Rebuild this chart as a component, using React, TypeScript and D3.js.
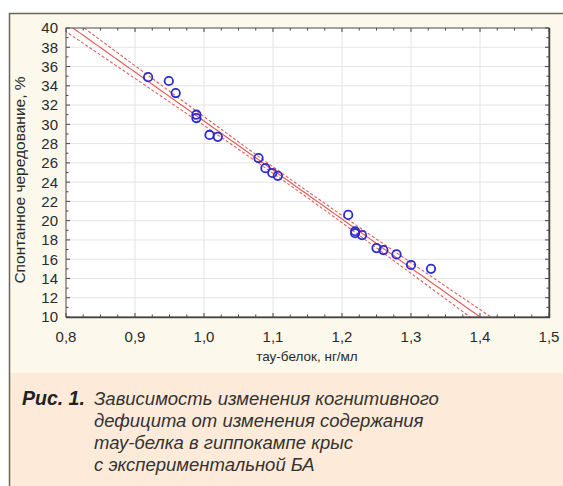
import React from 'react';
import * as d3 from 'd3';

// тау-белок, нг/мл  vs  спонтанное чередование, %
const tau = [0.919, 0.949, 0.959, 0.989, 0.989, 1.008, 1.02, 1.079, 1.089, 1.099, 1.107,
  1.209, 1.219, 1.219, 1.229, 1.25, 1.26, 1.279, 1.3, 1.329];
const alternation = [34.9, 34.5, 33.25, 31.0, 30.65, 28.9, 28.7, 26.5, 25.45, 24.95, 24.65,
  20.6, 18.9, 18.7, 18.5, 17.15, 16.95, 16.5, 15.4, 15.0];

// fitted line as it reads off the picture: y = intercept + slope * x
const fitIntercept = 81.19;
const fitSlope = -50.85;

const xTicks = [0.8, 0.9, 1.0, 1.1, 1.2, 1.3, 1.4, 1.5];
const yTicks = [10, 12, 14, 16, 18, 20, 22, 24, 26, 28, 30, 32, 34, 36, 38, 40];

const captionLines = [
  'Зависимость изменения когнитивного',
  'дефицита от изменения содержания',
  'тау-белка в гиппокампе крыс',
  'с экспериментальной БА',
];

const W = 563, H = 486;
const plot = { left: 66, top: 28, right: 549, bottom: 317 };

export default function App() {
  const x = d3.scaleLinear().domain([0.8, 1.5]).range([plot.left, plot.right]);
  const y = d3.scaleLinear().domain([10, 40]).range([plot.bottom, plot.top]);

  // 95% band of the mean around the line
  const n = tau.length;
  const mx = d3.mean(tau)!;
  const sxx = d3.sum(tau, v => (v - mx) ** 2);
  const fit = (v: number) => fitIntercept + fitSlope * v;
  const s = Math.sqrt(d3.sum(tau, (v, i) => (alternation[i] - fit(v)) ** 2) / (n - 2));
  const t = 2.101;
  const half = (v: number) => t * s * Math.sqrt(1 / n + (v - mx) ** 2 / sxx);
  const grid = d3.range(0.78, 1.5001, 0.005);

  const line = d3.line<[number, number]>().x(d => x(d[0])).y(d => y(d[1]));
  const mk = (f: (v: number) => number) =>
    line(grid.map(v => [v, f(v)] as [number, number])) ?? '';

  const xMinor = d3.range(0, 29).map(i => 0.8 + i * 0.025);
  const yMinor = d3.range(10, 41, 1);
  const axisColor = '#444';
  const font = '"Liberation Sans", Arial, sans-serif';
  const capFont = '"Liberation Sans", Arial, sans-serif';

  return (
    <svg width={W} height={H} style={{ display: 'block', position: 'absolute', left: 0, top: 0 }}>
      <defs>
        <clipPath id="pc">
          <rect x={plot.left} y={plot.top} width={plot.right - plot.left} height={plot.bottom - plot.top} />
        </clipPath>
      </defs>
      <rect x={0} y={0} width={W} height={H} fill="#fff" />
      <rect x={9} y={13} width={W - 9} height={360} fill="#fdf8ec" />
      <rect x={9} y={373} width={W - 9} height={H - 373} fill="#fdead8" />
      <line x1={9.5} x2={9.5} y1={13} y2={H} stroke="#6e6655" strokeWidth={1.5} />
      <line x1={9} x2={W} y1={13.5} y2={13.5} stroke="#6e6655" strokeWidth={1.5} />

      <rect x={plot.left} y={plot.top} width={plot.right - plot.left} height={plot.bottom - plot.top} fill="#fff" />
      {xTicks.map(v => (
        <line key={'gx' + v} x1={x(v)} x2={x(v)} y1={plot.top} y2={plot.bottom} stroke="#e4e4e4" strokeWidth={1} />
      ))}
      {yTicks.map(v => (
        <line key={'gy' + v} x1={plot.left} x2={plot.right} y1={y(v)} y2={y(v)} stroke="#e4e4e4" strokeWidth={1} />
      ))}
      {xMinor.map((v, i) => (
        <g key={'mx' + i}>
          <line x1={x(v)} x2={x(v)} y1={plot.bottom} y2={plot.bottom - (i % 4 === 0 ? 4 : 2.5)} stroke={axisColor} />
          <line x1={x(v)} x2={x(v)} y1={plot.top} y2={plot.top + (i % 4 === 0 ? 4 : 2.5)} stroke={axisColor} />
        </g>
      ))}
      {yMinor.map((v, i) => (
        <g key={'my' + i}>
          <line x1={plot.left} x2={plot.left + (i % 2 === 0 ? 4 : 2.5)} y1={y(v)} y2={y(v)} stroke={axisColor} />
          <line x1={plot.right} x2={plot.right - (i % 2 === 0 ? 4 : 2.5)} y1={y(v)} y2={y(v)} stroke={axisColor} />
        </g>
      ))}

      <g clipPath="url(#pc)" fill="none">
        <path d={mk(fit)} stroke="#e0605a" strokeWidth={1.2} />
        <path d={mk(v => fit(v) + half(v))} stroke="#e0605a" strokeWidth={1.1} strokeDasharray="3,2" />
        <path d={mk(v => fit(v) - half(v))} stroke="#e0605a" strokeWidth={1.1} strokeDasharray="3,2" />
      </g>

      {tau.map((v, i) => (
        <circle key={'p' + i} cx={x(v)} cy={y(alternation[i])} r={4.2} fill="none" stroke="#2b2bd0" strokeWidth={1.8} />
      ))}

      <rect x={plot.left} y={plot.top} width={plot.right - plot.left} height={plot.bottom - plot.top}
        fill="none" stroke="#555" strokeWidth={1} />
      <line x1={plot.right + 0.5} x2={plot.right + 0.5} y1={plot.top} y2={plot.bottom + 1} stroke="#444" strokeWidth={1.5} />
      <line x1={plot.left} x2={plot.right + 1} y1={plot.bottom + 0.5} y2={plot.bottom + 0.5} stroke="#444" strokeWidth={1.5} />

      {yTicks.map(v => (
        <text key={'ty' + v} x={plot.left - 8} y={y(v)} dy="0.36em" textAnchor="end"
          fontFamily={font} fontSize={15} fill="#2a2a2a">{v}</text>
      ))}
      {xTicks.map(v => (
        <text key={'tx' + v} x={x(v)} y={plot.bottom + 25} textAnchor="middle"
          fontFamily={font} fontSize={15} fill="#2a2a2a">{d3.format('.1f')(v).replace('.', ',')}</text>
      ))}
      <text x={307} y={361} textAnchor="middle" fontFamily={font} fontSize={13.5} fill="#2a2a2a">
        тау-белок, нг/мл
      </text>
      <text transform={`translate(25,180) rotate(-90)`} textAnchor="middle"
        fontFamily={font} fontSize={15.5} fill="#2a2a2a">
        Спонтанное чередование, %
      </text>

      <text x={22} y={405} fontFamily={capFont} fontSize={19.5}
        fontStyle="italic" fontWeight={700} fill="#222">Рис. 1.</text>
      {captionLines.map((l, i) => (
        <text key={'c' + i} x={94} y={405 + i * 22} fontFamily={capFont}
          fontSize={18.5} fontStyle="italic" fill="#333">{l}</text>
      ))}
    </svg>
  );
}
